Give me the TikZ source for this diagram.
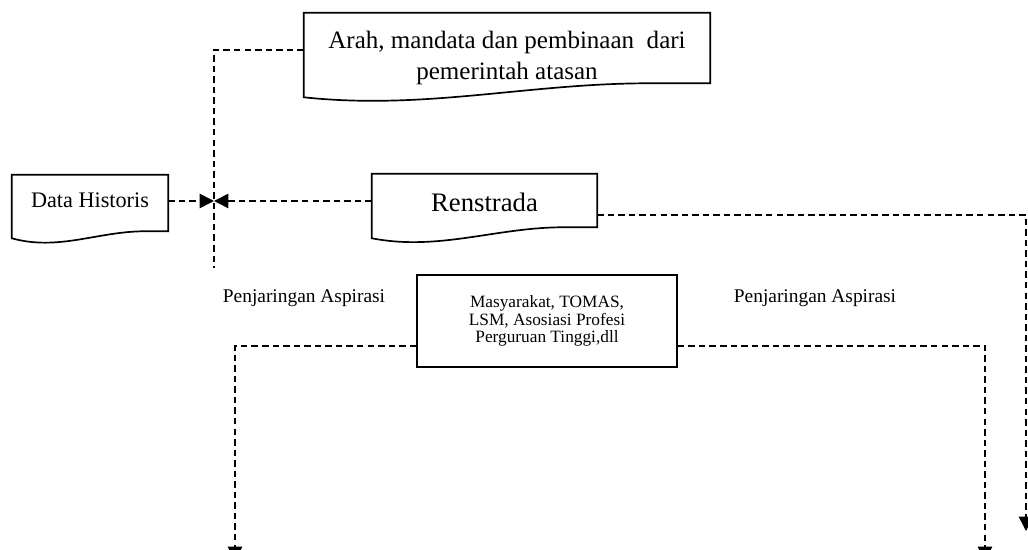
\documentclass[tikz,border=0pt]{standalone}
\usepackage{fontspec}
\setmainfont{Liberation Serif}
\usepackage{tikz}
\usetikzlibrary{arrows.meta,calc,positioning}
\tikzset{
  docline/.style={draw=black, line width=1.2pt},
  flowline/.style={draw=black, line width=1.1pt, dash pattern=on 4.6pt off 2.9pt},
  doctext/.style={inner sep=0pt, align=center},
  flowtip/.style={-{Triangle[length=3.6mm,width=3.6mm]}},
}
% outline of a document shape round a node: #2 and #3 place the left and right
% bottom corners below the node's south side
\newcommand{\docoutline}[3]{%
  \draw[docline] ($(#1.south east)+(0,#3)$) -- (#1.north east) -- (#1.north west)
    -- ($(#1.south west)+(0,#2)$)
    .. controls ($(#1.south west)!0.3!(#1.south east)+(0,#2+13)$)
    and ($(#1.south west)!0.55!(#1.south east)+(0,#3)$)
    .. ($(#1.south west)!0.85!(#1.south east)+(0,#3)$) -- cycle;}
\newcommand{\pix}{0.025cm}

\begin{document}
\begin{tikzpicture}[x=0.025cm, y=-0.025cm]
\useasboundingbox (0,0) rectangle (1028,550);

%% Documents
\node[doctext, minimum width=406*\pix, minimum height=90*\pix, font=\fontsize{17.8}{19.5}\selectfont] (arah) at (507,58) {Arah, mandata dan pembinaan\ \ dari\\[3pt]pemerintah atasan};
\docoutline{arah}{-6}{-20}

\node[doctext, minimum width=156*\pix, minimum height=50*\pix, font=\fontsize{15.8}{18}\selectfont] (hist) at (90,200) {Data Historis};
\docoutline{hist}{13}{6}

\node[doctext, minimum width=225*\pix, minimum height=56*\pix, font=\fontsize{19}{22}\selectfont] (renstra) at (484.5,202) {Renstrada};
\docoutline{renstra}{8}{-3}

%% Aspirasi
\node[doctext, docline, minimum width=260*\pix, minimum height=92*\pix, font=\fontsize{12.3}{12.6}\selectfont] (masy) at (547,321) {Masyarakat, TOMAS,\\LSM, Asosiasi Profesi\\Perguruan Tinggi,dll};
\node[font=\fontsize{13.8}{16}\selectfont, inner sep=0pt] (penjL) at (304,298) {Penjaringan Aspirasi};
\node[font=\fontsize{13.8}{16}\selectfont, inner sep=0pt] (penjR) at (815,298) {Penjaringan Aspirasi};

%% Connectors
\coordinate (vtop) at (214,50);
\coordinate (meet) at (214,201);
\coordinate (vend) at (214,268);
\coordinate (rbend) at (1026,215);
\coordinate (rend) at (1026,531);
\coordinate (lend) at (235,561);
\coordinate (mend) at (985,561);

\draw[flowline] (arah.west |- vtop) -| (vend);
\draw[flowline,flowtip] (hist.east |- meet) -- (meet);
\draw[flowline,flowtip] (renstra.west |- meet) -- (meet);
\draw[flowline,flowtip] (renstra.east |- rbend) -| (rend);
\draw[flowline,flowtip] ($(masy.west)+(0,25)$) -| (lend);
\draw[flowline,flowtip] ($(masy.east)+(0,25)$) -| (mend);

\end{tikzpicture}
\end{document}
